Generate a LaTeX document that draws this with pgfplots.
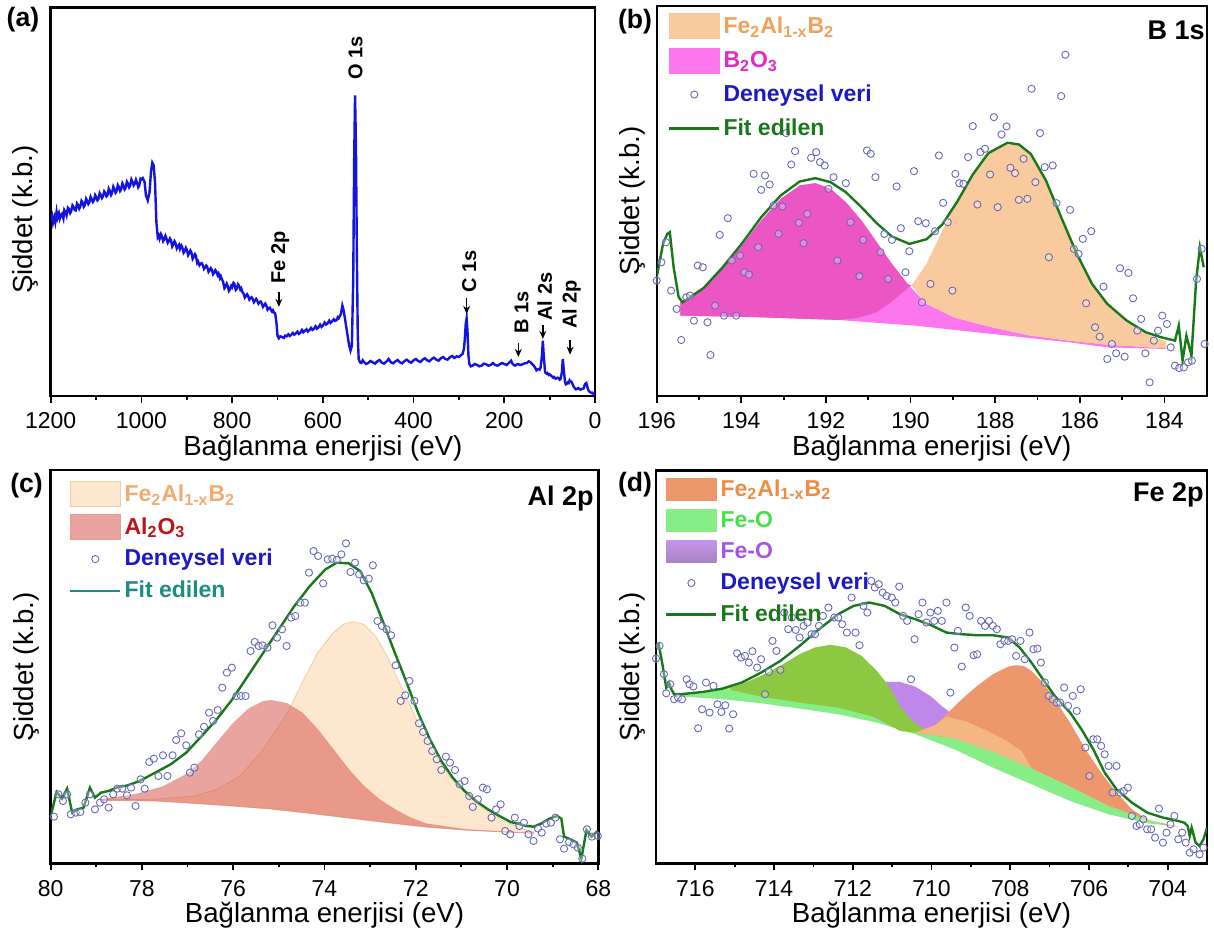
\documentclass[border=0pt]{standalone}
\usepackage{pgfplots}
\pgfplotsset{compat=1.18}
\usepackage{fontspec}
\setmainfont{Liberation Sans}
\usetikzlibrary{arrows.meta}

\definecolor{spec}{RGB}{20,20,225}
\definecolor{fitg}{RGB}{25,120,25}
\definecolor{circ}{RGB}{105,105,185}
\definecolor{blu}{RGB}{25,25,200}
% B 1s
\definecolor{bOr}{RGB}{249,202,158}
\definecolor{bOrT}{RGB}{243,160,90}
\definecolor{bMagD}{RGB}{236,85,196}
\definecolor{bMagB}{RGB}{252,118,238}
\definecolor{bMagT}{RGB}{228,40,200}
% Al 2p
\definecolor{cPe}{RGB}{253,231,207}
\definecolor{cPeE}{RGB}{240,205,170}
\definecolor{cRed}{RGB}{215,90,80}
\definecolor{cPeT}{RGB}{242,172,112}
\definecolor{cRedT}{RGB}{190,20,25}
\definecolor{cFitT}{RGB}{30,140,130}
% Fe 2p
\definecolor{dOr}{RGB}{237,152,108}
\definecolor{dOrL}{RGB}{244,182,130}
\definecolor{dOrT}{RGB}{238,140,70}
\definecolor{dGr}{RGB}{135,238,135}
\definecolor{dGrT}{RGB}{70,225,70}
\definecolor{dOl}{RGB}{140,200,65}
\definecolor{dPu}{RGB}{192,135,235}
\definecolor{dPuT}{RGB}{165,85,230}

\newcommand\lblfont{\fontsize{13.8}{15}\selectfont}
\newcommand\legfont{\bfseries\fontsize{11.5}{13}\selectfont}
\newcommand\pkfont{\bfseries\fontsize{10}{12}\selectfont}
\newcommand\ttlfont{\bfseries\fontsize{13.5}{15}\selectfont}

\pgfplotsset{
  panel/.style={
    anchor=south west, scale only axis,
    x dir=reverse, ytick=\empty, xtick pos=left,
    tick align=outside, major tick length=3.5pt, minor tick length=2pt,
    minor x tick num=1,
    tick style={line width=0.9pt, black},
    axis line style={line width=1.2pt},
    /pgf/number format/assume math mode=true,
    /pgf/number format/1000 sep={},
    xticklabel style={font=\fontsize{11.5}{13}\selectfont, anchor=center, yshift=-9pt, inner sep=0pt},
    legend cell align=left,
    legend style={draw=none, fill=none, inner sep=0pt, row sep=4pt,
      font=\legfont, nodes={inner sep=1.5pt}},
  },
  dots/.style={only marks, mark=*, mark size=1.8pt,
    mark options={draw=circ, fill=white, fill opacity=0.3, line width=0.45pt}},
  fitline/.style={fitg, line width=1.2pt},
}

\begin{document}
\begin{tikzpicture}

% ---------------- (a) survey ----------------
\begin{axis}[panel, name=a, at={(25.35pt,268.65pt)}, width=272.15pt, height=194.1pt,
  xmin=0, xmax=1200, ymin=0, ymax=1163, xtick={0,200,...,1200}]
\addplot[spec, line width=1.2pt] coordinates {
(1200,525)(1197,538)(1195,518)(1192,534)(1190,520)(1187,551)(1185,533)(1182,546)
(1180,530)(1177,542)(1175,545)(1172,531)(1170,556)(1167,549)(1165,540)(1162,563)
(1160,560)(1157,547)(1155,552)(1152,570)(1150,566)(1147,556)(1145,555)(1142,576)
(1140,572)(1137,560)(1135,565)(1132,584)(1130,580)(1127,566)(1125,570)(1122,590)
(1120,585)(1117,574)(1115,578)(1112,596)(1110,590)(1107,580)(1105,584)(1102,601)
(1100,596)(1097,585)(1095,588)(1092,607)(1090,602)(1087,592)(1085,596)(1082,612)
(1080,608)(1077,597)(1075,600)(1072,620)(1070,614)(1067,601)(1065,606)(1062,626)
(1060,620)(1057,608)(1055,612)(1052,631)(1050,626)(1047,613)(1045,617)(1042,636)
(1040,630)(1037,618)(1035,622)(1032,641)(1030,636)(1027,624)(1025,628)(1022,648)
(1020,642)(1017,630)(1015,634)(1012,647)(1010,640)(1007,624)(1005,628)(1002,650)
(1000,648)(997,652)(993,640)(990,600)(986,585)(982,610)(979,670)(976,698)(973,690)
(970,640)(967,520)(964,475)(962,480)(960,470)(957,484)(955,478)(952,463)(950,468)
(947,479)(945,472)(942,458)(940,462)(937,471)(935,466)(932,447)(930,452)(927,463)
(925,458)(922,441)(920,446)(917,452)(915,440)(912,450)(910,445)(907,428)(905,432)
(902,443)(900,438)(897,421)(895,426)(892,435)(890,430)(887,410)(885,415)(882,424)
(880,420)(877,398)(875,402)(872,391)(870,395)(867,397)(865,392)(862,380)(860,384)
(857,390)(855,386)(852,371)(850,375)(847,382)(845,378)(842,364)(840,368)(837,376)
(835,372)(832,361)(830,366)(827,352)(825,358)(822,347)(820,342)(817,322)(815,326)
(812,336)(810,330)(807,314)(805,318)(802,329)(800,325)(797,338)(795,335)(792,317)
(790,320)(787,334)(785,330)(782,318)(780,322)(777,310)(775,306)(772,294)(770,298)
(767,304)(765,300)(762,288)(760,292)(757,295)(755,290)(752,280)(750,284)(747,290)
(745,286)(742,276)(740,280)(737,282)(735,277)(732,266)(730,270)(727,276)(725,272)
(722,258)(720,262)(717,264)(715,258)(712,252)(710,256)(708,250)(705,246)(702,215)
(700,180)(697,172)(694,178)(690,176)(686,173)(683,180)(680,178)(676,184)(673,179)
(670,182)(666,188)(663,183)(660,186)(656,192)(653,185)(650,188)(646,197)(643,190)
(640,194)(636,199)(633,192)(630,196)(626,203)(623,197)(620,200)(616,208)(613,201)
(610,204)(606,213)(603,206)(600,210)(596,219)(593,213)(590,216)(586,225)(583,218)
(580,222)(576,229)(573,224)(570,226)(567,235)(565,232)(562,240)(560,245)(557,270)
(554,255)(550,220)(546,185)(542,150)(539,135)(536,150)(533,350)(531,700)(529,900)
(527,750)(525,420)(523,180)(521,110)(518,100)(515,98)(512,106)(510,102)(505,95)
(500,98)(495,104)(490,100)(485,96)(480,103)(475,107)(470,99)(465,96)(460,102)
(455,110)(450,100)(445,97)(440,103)(435,107)(430,100)(425,97)(420,104)(415,108)
(410,102)(405,99)(400,106)(395,110)(390,104)(385,101)(380,108)(375,112)(370,106)
(365,103)(360,110)(355,114)(350,108)(345,105)(340,112)(335,116)(330,110)(325,108)
(320,115)(315,119)(310,113)(305,118)(300,116)(295,122)(292,125)(289,140)(287,170)
(285,215)(283,232)(281,190)(279,120)(277,95)(274,88)(270,90)(265,95)(260,92)
(255,88)(250,90)(245,96)(240,94)(235,90)(230,92)(225,98)(220,92)(215,90)(210,94)
(205,98)(200,95)(195,92)(190,98)(185,105)(182,96)(179,92)(176,90)(173,93)(170,95)
(165,92)(160,94)(155,97)(150,98)(146,103)(142,100)(138,94)(135,90)(132,84)(129,76)
(126,79)(124,80)(122,78)(120,84)(117,120)(115,165)(113,120)(110,70)(107,66)(105,68)
(102,62)(100,64)(97,60)(95,58)(92,54)(90,56)(87,51)(85,52)(82,54)(80,52)(78,48)
(76,50)(73,70)(71,110)(69,80)(66,40)(64,34)(62,36)(60,40)(58,38)(56,46)(55,44)(52,42)
(50,36)(48,30)(46,25)(44,22)(42,19)(40,20)(37,23)(35,21)(32,18)(30,20)(27,21)(25,22)
(22,35)(19,38)(16,22)(14,15)(12,12)(10,10)(8,8)(6,9)(4,6)(2,6)(0,5)};
% peak labels
\node[rotate=90, anchor=west, font=\pkfont, inner sep=1pt] at (axis cs:528,940) {O 1s};
\node[rotate=90, anchor=west, font=\pkfont, inner sep=1pt] at (axis cs:694,328) {Fe 2p};
\draw[-{Stealth[length=4pt,width=3.4pt]}, line width=0.7pt] (axis cs:697,312) -- (axis cs:697,266);
\node[rotate=90, anchor=west, font=\pkfont, inner sep=1pt] at (axis cs:277,303) {C 1s};
\draw[-{Stealth[length=4pt,width=3.4pt]}, line width=0.7pt] (axis cs:283,292) -- (axis cs:283,245);
\node[rotate=90, anchor=west, font=\pkfont, inner sep=1pt] at (axis cs:162,178) {B 1s};
\draw[-{Stealth[length=4pt,width=3.4pt]}, line width=0.7pt] (axis cs:169,157) -- (axis cs:169,116);
\node[rotate=90, anchor=west, font=\pkfont, inner sep=1pt] at (axis cs:111,218) {Al 2s};
\draw[-{Stealth[length=4pt,width=3.4pt]}, line width=0.7pt] (axis cs:115,212) -- (axis cs:115,170);
\node[rotate=90, anchor=west, font=\pkfont, inner sep=1pt] at (axis cs:52,193) {Al 2p};
\draw[-{Stealth[length=4pt,width=3.4pt]}, line width=0.7pt] (axis cs:55,167) -- (axis cs:55,123);
\end{axis}

% ---------------- (b) B 1s ----------------
\begin{axis}[panel, name=b, at={(328.35pt,268.65pt)}, width=275pt, height=194.85pt,
  xmin=183, xmax=196, ymin=0, ymax=1168, xtick={184,186,...,196},
  legend style={at={(axis description cs:0.02,0.982)}, anchor=north west}]
\addlegendimage{legend image code/.code={\fill[bOr] (0pt,-6pt) rectangle (25pt,6.5pt);}}
\addlegendentry{\textcolor{bOrT}{Fe\textsubscript{2}Al\textsubscript{1-x}B\textsubscript{2}}}
\addlegendimage{legend image code/.code={\fill[bMagB] (0pt,-6pt) rectangle (25pt,6.5pt);}}
\addlegendentry{\textcolor{bMagT}{B\textsubscript{2}O\textsubscript{3}}}
\addlegendimage{legend image code/.code={\path[draw=none,fill=none] (0pt,-6pt) rectangle (25pt,6.5pt);
  \draw[circ, line width=0.45pt] plot[mark=o, mark size=1.8pt] coordinates {(12.5pt,0pt)};}}
\addlegendentry{\textcolor{blu}{Deneysel veri}}
\addlegendimage{legend image code/.code={\path[draw=none,fill=none] (0pt,-6pt) rectangle (25pt,6.5pt);
  \draw[fitg, line width=1.2pt] (0pt,0pt) -- (25pt,0pt);}}
\addlegendentry{\textcolor{fitg}{Fit edilen}}
% B2O3 component over the whole background
\addplot[forget plot, fill=bMagB, draw=none] coordinates {
(195.44,280)(194.89,320)(194.44,380)(193.98,450)(193.53,525)(193.07,590)(192.62,630)
(192.25,637)(191.89,620)(191.53,580)(191.16,525)(190.80,460)(190.44,395)(190.07,335)
(189.62,275)(188.98,235)(188.07,205)(187.16,180)(186.25,165)(185.35,153)(183.96,142)
(183.96,140)(185.35,145)(186.25,160)(188.07,185)(189.89,210)(191.71,227)(193.53,235)(195.44,240)};
% B2O3 body above the Fe2Al1-xB2 tail
\addplot[forget plot, fill=bMagD, draw=none] coordinates {
(195.44,240)(193.53,235)(191.71,227)(191.25,233)(190.80,250)(190.44,282)(190.07,322)
(189.98,330)(190.07,335)(190.44,395)(190.80,460)(191.16,525)(191.53,580)(191.89,620)
(192.25,637)(192.62,630)(193.07,590)(193.53,525)(193.98,450)(194.44,380)(194.89,320)(195.44,280)};
% Fe2Al1-xB2 component
\addplot[forget plot, fill=bOr, draw=none] coordinates {
(189.98,330)(189.62,395)(189.25,495)(188.89,585)(188.53,665)(188.16,725)(187.71,753)
(187.44,750)(187.16,720)(186.80,640)(186.44,530)(186.07,420)(185.71,330)(185.35,270)
(184.89,220)(184.44,185)(183.96,163)(183.96,142)(185.35,153)(186.25,165)(187.16,180)
(188.07,205)(188.98,235)(189.62,275)(189.98,330)};
\addplot[forget plot, fitline] coordinates {
(196.00,355)(195.85,455)(195.75,485)(195.69,490)(195.60,385)(195.48,295)(195.39,280)
(194.89,323)(194.44,385)(193.98,457)(193.53,535)(193.07,600)(192.62,642)(192.25,652)
(191.89,640)(191.53,610)(191.16,565)(190.80,517)(190.44,477)(190.03,455)(189.62,469)
(189.25,513)(188.89,583)(188.53,663)(188.16,727)(187.71,758)(187.44,753)(187.16,725)
(186.80,645)(186.44,535)(186.07,425)(185.71,335)(185.35,275)(184.89,225)(184.44,190)
(184.07,175)(183.75,165)(183.66,210)(183.57,105)(183.48,180)(183.36,120)(183.25,345)
(183.16,445)(183.07,385)};
\addplot[forget plot, dots] coordinates {
(196.00,345)(195.89,400)(195.78,460)(195.66,315)(195.53,260)(195.42,167)(195.30,295)
(195.21,300)(195.12,225)(195.03,390)(194.91,385)(194.80,220)(194.73,122)(194.62,270)
(194.51,482)(194.41,240)(194.32,532)(194.23,405)(194.12,240)(194.03,420)(193.93,370)
(193.82,363)(193.71,665)(193.60,445)(193.53,617)(193.44,660)(193.33,633)(193.24,570)
(193.12,485)(193.03,567)(192.94,787)(192.82,693)(192.73,733)(192.64,518)(192.53,457)
(192.44,545)(192.35,713)(192.23,730)(192.14,700)(192.03,690)(191.94,620)(191.82,655)
(191.73,405)(191.53,637)(191.42,520)(191.21,358)(191.12,467)(191.03,735)(190.94,725)
(190.83,655)(190.71,430)(190.62,485)(190.53,350)(190.44,467)(190.33,627)(190.23,502)
(190.12,370)(190.03,433)(189.92,673)(189.82,523)(189.73,280)(189.64,517)(189.53,335)
(189.42,493)(189.33,720)(189.23,578)(189.12,520)(189.01,315)(188.94,665)(188.85,637)
(188.75,635)(188.64,715)(188.53,808)(188.42,573)(188.35,730)(188.24,740)(188.12,663)
(188.03,835)(187.94,565)(187.85,783)(187.73,807)(187.64,683)(187.53,667)(187.44,587)
(187.33,710)(187.24,590)(187.14,920)(187.05,640)(186.94,787)(186.83,685)(186.73,415)
(186.64,690)(186.55,577)(186.44,898)(186.34,1022)(186.23,557)(186.14,440)(186.03,425)
(185.93,470)(185.85,277)(185.73,493)(185.64,205)(185.53,177)(185.44,327)(185.35,110)
(185.24,155)(185.14,127)(185.05,382)(184.94,117)(184.85,368)(184.74,292)(184.64,195)
(184.55,230)(184.45,127)(184.35,40)(184.25,165)(184.15,195)(184.05,240)(183.94,215)
(183.85,145)(183.75,90)(183.65,83)(183.54,85)(183.44,100)(183.35,105)(183.23,350)
(183.12,440)(183.05,155)};
\end{axis}

% ---------------- (c) Al 2p ----------------
\begin{axis}[panel, name=c, at={(25.35pt,34.85pt)}, width=273.8pt, height=196.65pt,
  xmin=68, xmax=80, ymin=0, ymax=1180, xtick={68,70,...,80},
  legend style={at={(axis description cs:0.033,0.972)}, anchor=north west, row sep=3pt}]
\addlegendimage{legend image code/.code={\fill[cPe, draw=cPeE, line width=0.5pt] (0pt,-6pt) rectangle (25pt,6.5pt);}}
\addlegendentry{\textcolor{cPeT}{Fe\textsubscript{2}Al\textsubscript{1-x}B\textsubscript{2}}}
\addlegendimage{legend image code/.code={\fill[cRed!55!white, draw=cRed!60!white, line width=0.5pt] (0pt,-6pt) rectangle (25pt,6.5pt);}}
\addlegendentry{\textcolor{cRedT}{Al\textsubscript{2}O\textsubscript{3}}}
\addlegendimage{legend image code/.code={\path[draw=none,fill=none] (0pt,-6pt) rectangle (25pt,6.5pt);
  \draw[circ, line width=0.45pt] plot[mark=o, mark size=1.8pt] coordinates {(12.5pt,0pt)};}}
\addlegendentry{\textcolor{blu}{Deneysel veri}}
\addlegendimage{legend image code/.code={\path[draw=none,fill=none] (0pt,-6pt) rectangle (25pt,6.5pt);
  \draw[cFitT, line width=1.2pt] (0pt,0pt) -- (25pt,0pt);}}
\addlegendentry{\textcolor{cFitT}{Fit edilen}}
% Fe2Al1-xB2 component
\addplot[forget plot, fill=cPe, draw=cPeE, line width=0.4pt] coordinates {
(78.90,191)(77.71,192)(76.86,202)(76.36,222)(75.85,262)(75.34,342)(74.83,447)(74.49,542)
(74.15,632)(73.81,692)(73.56,720)(73.35,724)(73.14,717)(72.88,682)(72.63,622)(72.29,522)
(71.95,422)(71.61,332)(71.27,262)(70.93,212)(70.51,162)(70.08,127)(69.66,104)(69.41,92)
(69.41,90)(70.08,94)(70.93,100)(71.78,109)(72.63,122)(73.47,136)(74.32,150)(75.17,163)
(76.02,172)(76.86,180)(77.71,187)(78.90,189)};
% Al2O3 component
\addplot[forget plot, fill=cRed, fill opacity=0.55, draw=cRed!70!white, draw opacity=0.5, line width=0.4pt] coordinates {
(78.90,192)(78.14,207)(77.54,230)(77.03,267)(76.69,307)(76.36,362)(76.02,417)(75.68,462)
(75.34,486)(75.17,489)(74.83,480)(74.49,452)(74.15,402)(73.81,342)(73.47,282)(73.14,232)
(72.80,192)(72.46,162)(72.12,137)(71.78,119)(70.93,102)(70.08,95)(69.41,91)
(69.41,90)(70.08,94)(70.93,100)(71.78,109)(72.63,122)(73.47,136)(74.32,150)(75.17,163)
(76.02,172)(76.86,180)(77.71,187)(78.90,189)};
\addplot[forget plot, fitline] coordinates {
(80.00,142)(79.87,214)(79.75,194)(79.64,224)(79.53,152)(79.41,162)(79.28,167)(79.14,227)
(79.03,197)(78.90,212)(78.73,217)(78.56,227)(78.31,234)(78.05,247)(77.71,272)(77.37,297)
(77.03,332)(76.69,382)(76.36,432)(76.02,492)(75.68,562)(75.34,632)(75.00,702)(74.66,772)
(74.32,832)(73.98,882)(73.73,902)(73.47,900)(73.22,877)(72.97,812)(72.71,722)(72.46,632)
(72.20,542)(71.95,452)(71.69,372)(71.44,307)(71.19,257)(70.93,217)(70.68,187)(70.42,162)
(70.17,142)(69.92,124)(69.58,112)(69.41,110)(69.24,120)(69.07,134)(68.90,142)(68.81,134)
(68.75,80)(68.64,74)(68.47,62)(68.37,14)(68.26,100)(68.15,80)(68.01,97)};
\addplot[forget plot, dots] coordinates {
(79.93,140)(79.83,207)(79.73,187)(79.64,207)(79.56,147)(79.45,152)(79.35,154)(79.24,182)
(79.14,207)(79.03,162)(78.92,182)(78.83,192)(78.73,167)(78.63,207)(78.54,224)(78.43,224)
(78.33,204)(78.24,227)(78.14,172)(78.03,252)(77.94,224)(77.84,304)(77.74,314)(77.64,262)
(77.54,324)(77.44,262)(77.33,324)(77.25,370)(77.14,390)(77.03,354)(76.95,272)(76.85,287)
(76.75,387)(76.64,410)(76.53,452)(76.44,427)(76.34,460)(76.24,527)(76.14,572)(76.03,587)
(75.93,502)(75.83,502)(75.73,502)(75.62,637)(75.53,664)(75.44,652)(75.36,654)(75.25,647)
(75.14,714)(75.04,677)(74.93,702)(74.83,652)(74.73,737)(74.64,742)(74.53,782)(74.43,782)
(74.34,872)(74.24,937)(74.14,922)(74.03,840)(73.93,912)(73.83,914)(73.73,910)(73.63,927)
(73.53,960)(73.43,874)(73.33,902)(73.24,867)(73.14,849)(73.03,854)(72.94,894)(72.84,727)
(72.74,712)(72.64,702)(72.54,684)(72.44,594)(72.33,487)(72.23,504)(72.14,547)(72.03,487)
(71.93,420)(71.84,394)(71.74,367)(71.64,337)(71.54,312)(71.44,280)(71.34,320)(71.25,302)
(71.14,280)(71.04,237)(70.93,247)(70.83,202)(70.75,169)(70.64,192)(70.53,227)(70.44,222)
(70.34,137)(70.24,162)(70.14,177)(70.04,97)(69.93,87)(69.83,137)(69.73,112)(69.63,122)
(69.53,87)(69.42,67)(69.32,104)(69.24,92)(69.14,119)(69.04,122)(68.94,137)(68.84,72)
(68.75,44)(68.64,64)(68.54,57)(68.45,47)(68.35,14)(68.25,102)(68.14,80)(68.01,82)};
\end{axis}

% ---------------- (d) Fe 2p ----------------
\begin{axis}[panel, name=d, at={(328pt,34.85pt)}, width=275.5pt, height=196.4pt,
  xmin=703, xmax=717, ymin=0, ymax=1178, xtick={704,706,...,716},
  legend style={at={(axis description cs:0.016,0.986)}, anchor=north west, row sep=3pt}]
\addlegendimage{legend image code/.code={\fill[dOr] (0pt,-5.5pt) rectangle (25pt,5.5pt);}}
\addlegendentry{\textcolor{dOrT}{Fe\textsubscript{2}Al\textsubscript{1-x}B\textsubscript{2}}}
\addlegendimage{legend image code/.code={\fill[dGr] (0pt,-5.5pt) rectangle (25pt,5.5pt);}}
\addlegendentry{\textcolor{dGrT}{Fe-O}}
\addlegendimage{legend image code/.code={\shade[draw=none, top color=dPu!90!white, bottom color=dPu!60!gray] (0pt,-5.5pt) rectangle (25pt,5.5pt);}}
\addlegendentry{\textcolor{dPuT}{Fe-O}}
\addlegendimage{legend image code/.code={\path[draw=none,fill=none] (0pt,-5.5pt) rectangle (25pt,5.5pt);
  \draw[circ, line width=0.45pt] plot[mark=o, mark size=1.8pt] coordinates {(12.5pt,0pt)};}}
\addlegendentry{\textcolor{blu}{Deneysel veri}}
\addlegendimage{legend image code/.code={\path[draw=none,fill=none] (0pt,-5.5pt) rectangle (25pt,5.5pt);
  \draw[fitg, line width=1.2pt] (0pt,0pt) -- (25pt,0pt);}}
\addlegendentry{\textcolor{fitg}{Fit edilen}}
% Fe-O (green) component with its tail
\addplot[forget plot, fill=dGr, draw=none] coordinates {
(716.54,502)(715.80,510)(715.31,522)(714.82,537)(714.33,562)(713.84,592)(713.35,627)
(712.96,647)(712.56,655)(712.17,647)(711.78,622)(711.39,577)(711.09,532)(710.80,472)
(710.50,427)(710.21,410)(710.01,406)(709.42,375)(708.44,335)(707.46,285)(706.48,230)
(705.50,172)(704.52,130)(703.73,110)
(704.52,120)(705.50,147)(706.48,187)(707.46,237)(708.44,287)(709.42,342)(710.41,387)
(711.39,422)(712.37,447)(713.35,464)(714.33,480)(715.31,492)(716.54,502)};
% Fe-O (purple) component
\addplot[forget plot, fill=dPu, draw=none] coordinates {
(711.49,542)(711.19,544)(710.80,544)(710.41,530)(710.01,500)(709.72,470)(709.42,442)
(709.13,415)(708.84,395)(708.84,385)(709.42,390)(710.01,395)(710.80,400)(711.49,440)};
% overlap of the green component with the others
\addplot[forget plot, fill=dOl, draw=none] coordinates {
(715.10,527)(714.82,537)(714.33,562)(713.84,592)(713.35,627)
(712.96,647)(712.56,655)(712.17,647)(711.78,622)(711.39,577)(711.09,532)(710.80,472)
(710.50,427)(710.21,405)(710.01,400)(710.11,402)(710.41,392)(710.80,397)(711.39,437)
(712.37,467)(713.35,482)(714.33,500)(715.10,520)};
% Fe2Al1-xB2 component, resting on the green tail
\addplot[forget plot, fill=dOr, draw=none] coordinates {
(710.41,392)(709.91,414)(709.62,447)(709.23,492)(708.84,532)(708.44,567)(708.05,590)
(707.85,594)(707.66,592)(707.46,577)(707.17,542)(706.87,492)(706.48,422)(706.09,342)
(705.69,272)(705.30,212)(704.91,162)(704.52,132)(704.03,114)(703.73,110)
(704.52,130)(705.50,172)(706.48,230)(707.46,285)(708.44,335)(709.42,375)(710.41,392)};
% lighter band along the lower flank of the Fe2Al1-xB2 component
\addplot[forget plot, fill=dOrL, draw=none] coordinates {
(710.41,392)(709.91,414)(709.62,440)(709.10,425)(708.60,398)(708.10,368)(707.70,335)
(707.46,285)(708.44,335)(709.42,375)(710.41,392)};
\addplot[forget plot, fitline] coordinates {
(717.00,647)(716.93,657)(716.83,592)(716.74,527)(716.67,542)(716.61,522)(716.54,507)
(716.29,508)(715.80,514)(715.31,524)(714.82,542)(714.33,572)(713.84,607)(713.35,652)
(712.86,702)(712.37,747)(711.98,772)(711.58,782)(711.19,772)(710.80,747)(710.41,732)
(710.01,714)(709.62,692)(709.23,687)(708.84,684)(708.44,684)(708.05,677)(707.76,647)
(707.46,602)(707.17,552)(706.87,502)(706.48,452)(706.19,402)(705.89,342)(705.60,272)
(705.30,222)(704.91,182)(704.52,152)(704.12,137)(703.73,127)(703.58,122)(703.49,112)
(703.44,82)(703.39,107)(703.29,62)(703.19,52)(703.09,72)(703.00,107)};
\addplot[forget plot, dots] coordinates {
(717.00,614)(716.91,652)(716.80,567)(716.74,510)(716.64,537)(716.54,492)(716.44,497)
(716.34,492)(716.22,552)(716.15,537)(716.05,530)(715.93,405)(715.83,462)(715.73,542)
(715.64,452)(715.54,532)(715.44,477)(715.34,454)(715.24,474)(715.14,404)(715.04,447)
(714.94,630)(714.84,617)(714.74,622)(714.64,602)(714.55,636)(714.43,587)(714.33,612)
(714.23,507)(714.13,574)(714.04,667)(713.94,637)(713.84,580)(713.74,752)(713.64,702)
(713.55,737)(713.45,700)(713.35,677)(713.25,712)(713.15,722)(713.05,687)(712.96,687)
(712.86,712)(712.76,742)(712.62,767)(712.47,737)(712.37,737)(712.27,717)(712.15,692)
(712.03,797)(711.93,692)(711.83,654)(711.73,772)(711.63,752)(711.53,847)(711.44,827)
(711.34,837)(711.24,812)(711.14,802)(711.01,797)(710.92,782)(710.82,830)(710.72,742)
(710.62,727)(710.52,552)(710.43,672)(710.33,747)(710.23,782)(710.13,722)(710.03,752)
(709.93,727)(709.84,757)(709.74,727)(709.62,782)(709.52,512)(709.42,647)(709.33,697)
(709.23,590)(709.13,767)(709.03,742)(708.93,624)(708.84,627)(708.74,727)(708.64,712)
(708.54,727)(708.44,712)(708.34,702)(708.25,657)(708.15,667)(708.05,667)(707.95,672)
(707.85,622)(707.74,667)(707.63,612)(707.51,692)(707.41,642)(707.31,644)(707.22,602)
(707.12,542)(707.02,502)(706.92,492)(706.82,482)(706.73,482)(706.63,527)(706.53,472)
(706.41,502)(706.31,457)(706.21,522)(706.09,347)(705.99,262)(705.89,372)(705.79,372)
(705.69,352)(705.60,327)(705.50,292)(705.40,212)(705.30,292)(705.20,212)(705.11,217)
(705.01,227)(704.91,142)(704.79,112)(704.71,117)(704.62,132)(704.52,102)(704.42,102)
(704.32,77)(704.22,164)(704.12,62)(704.03,92)(703.93,117)(703.83,142)(703.73,72)
(703.63,92)(703.54,62)(703.44,32)(703.34,42)(703.19,27)(703.09,47)};
\end{axis}

% axis labels, panel letters and titles
\foreach \n in {a,b,c,d}{
  \node[font=\lblfont, inner sep=0pt] at ([yshift=-26pt]\n.south) {Bağlanma enerjisi (eV)};
}
\node[font=\lblfont, rotate=90, inner sep=0pt] at ([xshift=-12.5pt,yshift=-9pt]a.west) {Şiddet (k.b.)};
\foreach \n in {b,c,d}{
  \node[font=\lblfont, rotate=90, inner sep=0pt] at ([xshift=-12pt]\n.west) {Şiddet (k.b.)};
}
\node[font=\bfseries\fontsize{13.3}{15}\selectfont] at (11.5pt,456.5pt) {(a)};
\node[font=\bfseries\fontsize{13.3}{15}\selectfont] at (317.5pt,455.5pt) {(b)};
\node[font=\bfseries\fontsize{13.3}{15}\selectfont] at (13.3pt,223.5pt) {(c)};
\node[font=\bfseries\fontsize{13.3}{15}\selectfont] at (317.5pt,224.2pt) {(d)};
\node[font=\ttlfont, anchor=base east, inner sep=0pt] at (602.5pt,446.8pt) {B 1s};
\node[font=\ttlfont, anchor=base east, inner sep=0pt] at (297pt,214pt) {Al 2p};
\node[font=\ttlfont, anchor=base east, inner sep=0pt] at (602pt,216pt) {Fe 2p};

\pgfresetboundingbox
\useasboundingbox (0,0) rectangle (607pt,466.5pt);
\end{tikzpicture}
\end{document}
